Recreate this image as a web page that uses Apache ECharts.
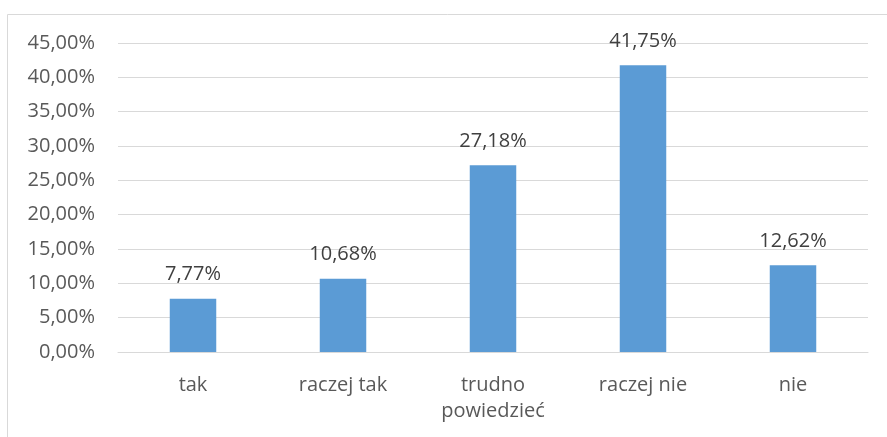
<!DOCTYPE html>
<html><head><meta charset="utf-8">
<script src="https://cdn.jsdelivr.net/npm/echarts@6/dist/echarts.min.js"></script>
<style>html,body{margin:0;padding:0;background:#fff}#c{width:887px;height:437px}</style>
</head><body><div id="c"></div>
<script>
const categories = ['tak', 'raczej tak', 'trudno\npowiedzieć', 'raczej nie', 'nie'];
const values = [7.77, 10.68, 27.18, 41.75, 12.62];
const yTicks = {min: 0, max: 45, interval: 5};
const fmt = v => v.toFixed(2).replace('.', ',') + '%';
const chart = echarts.init(document.getElementById('c'));
const font = 'Open Sans';
chart.setOption({
  animation: false,
  graphic: [{type: 'rect', shape: {x: 7.5, y: 14.5, width: 900, height: 450}, style: {fill: 'none', stroke: '#d9d9d9', lineWidth: 1}}],
  grid: {left: 118, right: 19, top: 43, bottom: 85, containLabel: false},
  xAxis: {
    type: 'category', data: categories,
    axisLine: {lineStyle: {color: '#d9d9d9'}},
    axisTick: {show: false},
    axisLabel: {color: '#595959', fontSize: 20, fontFamily: font, margin: 20, lineHeight: 26, interval: 0}
  },
  yAxis: {
    type: 'value', min: yTicks.min, max: yTicks.max, interval: yTicks.interval,
    axisLine: {show: false}, axisTick: {show: false},
    splitLine: {lineStyle: {color: '#d9d9d9'}},
    axisLabel: {color: '#595959', fontSize: 20, fontFamily: font, margin: 23, formatter: fmt}
  },
  series: [{
    type: 'bar', data: values, barWidth: '31%',
    itemStyle: {color: '#5b9bd5'},
    label: {show: true, position: 'top', distance: 14, color: '#404040', fontSize: 20, fontFamily: font, formatter: p => fmt(p.value)}
  }]
});
</script></body></html>
